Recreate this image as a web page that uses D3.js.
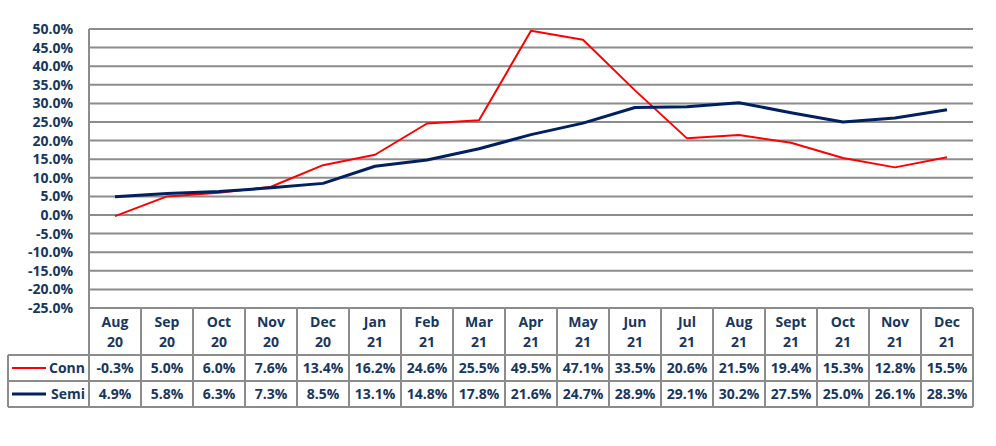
<html><head>
<meta charset="utf-8">
<script src="https://d3js.org/d3.v7.min.js"></script>
<style>
  body { margin: 0; background: #fff; }
  text { font-family: "Open Sans", "Liberation Sans", sans-serif; font-weight: bold; fill: #17375e; }
</style>
</head>
<body>
<svg id="chart" width="996" height="446"></svg>
<script>
  const months = ["Aug", "Sep", "Oct", "Nov", "Dec", "Jan", "Feb", "Mar", "Apr", "May", "Jun", "Jul", "Aug", "Sept", "Oct", "Nov", "Dec"];
  const years = ["20", "20", "20", "20", "20", "21", "21", "21", "21", "21", "21", "21", "21", "21", "21", "21", "21"];
  const conn = [-0.3, 5.0, 6.0, 7.6, 13.4, 16.2, 24.6, 25.5, 49.5, 47.1, 33.5, 20.6, 21.5, 19.4, 15.3, 12.8, 15.5];
  const semi = [4.9, 5.8, 6.3, 7.3, 8.5, 13.1, 14.8, 17.8, 21.6, 24.7, 28.9, 29.1, 30.2, 27.5, 25.0, 26.1, 28.3];
  const yTicks = [50, 45, 40, 35, 30, 25, 20, 15, 10, 5, 0, -5, -10, -15, -20, -25];

  const series = [
    {name: "Conn", values: conn, color: "#ff0000", width: 2},
    {name: "Semi", values: semi, color: "#002060", width: 3}
  ];

  const svg = d3.select("svg#chart");
  const plotLeft = 89, plotRight = 973, plotTop = 29, plotBottom = 308;
  const legendLeft = 8;
  const headerBottom = 355, rowH = 26;
  const grid = "#8c8c8c";
  const fs = 14;

  const x = d3.scaleBand().domain(d3.range(months.length)).range([plotLeft, plotRight]);
  const y = d3.scaleLinear().domain([-25, 50]).range([plotBottom, plotTop]);
  const cx = i => x(i) + x.bandwidth() / 2;
  const pct = d => d.toFixed(1) + "%";

  // gridlines
  svg.append("g").selectAll("line").data(yTicks).join("line")
    .attr("x1", plotLeft).attr("x2", plotRight)
    .attr("y1", d => y(d)).attr("y2", d => y(d))
    .attr("stroke", grid).attr("stroke-width", 2);

  // y labels
  svg.append("g").selectAll("text").data(yTicks).join("text")
    .attr("x", 73).attr("y", d => y(d))
    .attr("dy", "0.35em")
    .attr("text-anchor", "end")
    .attr("font-size", fs)
    .text(pct);

  // table grid
  const tg = svg.append("g").attr("stroke", grid).attr("stroke-width", 2);
  const tableBottom = headerBottom + 2 * rowH;
  tg.append("line").attr("x1", plotLeft).attr("x2", plotLeft).attr("y1", plotTop).attr("y2", tableBottom);
  d3.range(months.length).forEach(i => {
    const xr = x(i) + x.bandwidth();
    tg.append("line").attr("x1", xr).attr("x2", xr).attr("y1", plotBottom).attr("y2", tableBottom);
  });
  [0, 1, 2].forEach(r => {
    tg.append("line").attr("x1", legendLeft).attr("x2", plotRight)
      .attr("y1", headerBottom + r * rowH).attr("y2", headerBottom + r * rowH);
  });
  tg.append("line").attr("x1", legendLeft).attr("x2", legendLeft).attr("y1", headerBottom).attr("y2", tableBottom);

  // header labels
  const hdr = svg.append("g").selectAll("text").data(months).join("text")
    .attr("text-anchor", "middle")
    .attr("font-size", fs);
  hdr.append("tspan").attr("x", (d, i) => cx(i)).attr("y", 327).text(d => d);
  hdr.append("tspan").attr("x", (d, i) => cx(i)).attr("y", 347).text((d, i) => years[i]);

  // rows
  series.forEach((s, r) => {
    const cy = headerBottom + r * rowH + rowH / 2;
    svg.append("line").attr("x1", 12).attr("x2", 46).attr("y1", cy).attr("y2", cy)
      .attr("stroke", s.color).attr("stroke-width", s.width);
    svg.append("text").attr("x", 85).attr("y", cy).attr("dy", "0.35em")
      .attr("text-anchor", "end").attr("font-size", fs).text(s.name);
    svg.append("g").selectAll("text").data(s.values).join("text")
      .attr("x", (d, i) => cx(i)).attr("y", cy).attr("dy", "0.35em")
      .attr("text-anchor", "middle").attr("font-size", fs)
      .text(pct);
  });

  // lines
  const line = d3.line().x((d, i) => cx(i)).y(d => y(d));
  series.forEach(s => {
    svg.append("path").datum(s.values)
      .attr("fill", "none")
      .attr("stroke", s.color)
      .attr("stroke-width", s.width)
      .attr("stroke-linejoin", "round")
      .attr("d", line);
  });
</script>
</body>
</html>
